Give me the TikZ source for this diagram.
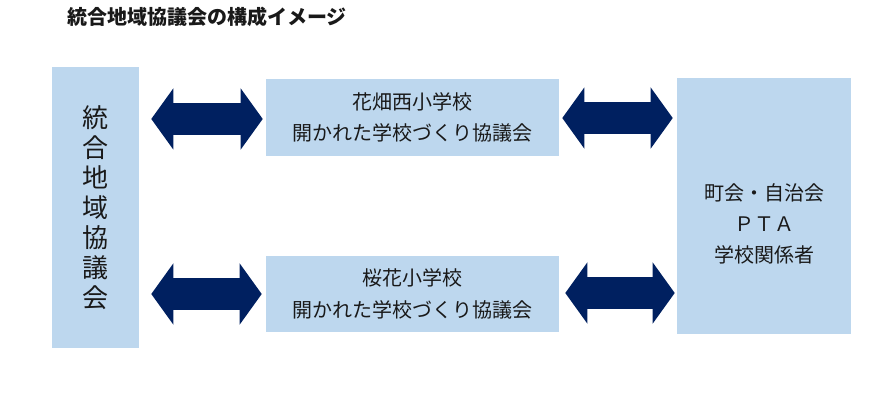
\documentclass[tikz,border=0pt]{standalone}
\usepackage{fontspec}
\setmainfont{Noto Sans CJK JP}
\usepackage{xcolor}
\definecolor{boxblue}{RGB}{189,215,238}
\definecolor{arrownavy}{RGB}{0,32,96}
\usepackage{tikz}
\usetikzlibrary{arrows.meta,positioning,calc}

\begin{document}
\begin{tikzpicture}[
  x=0.75pt,y=-0.75pt,
  every node/.style={font=\fontsize{15}{23.5}\selectfont,text=black!90},
  partbox/.style={fill=boxblue,draw=none,align=center,inner sep=0pt},
  dblarrow/.style={arrownavy,line width=24pt,line cap=butt,
                   {Triangle[length=16.5pt,width=45pt]}-{Triangle[length=16.5pt,width=45pt]}},
]
  \useasboundingbox (0,0) rectangle (880,414);

  % Title
  \node[font=\fontsize{15}{18}\selectfont\bfseries] (title) at (207,17) {統合地域協議会の構成イメージ};

  % Boxes
  \node[partbox,minimum width=65.25pt,minimum height=210.75pt,
        font=\fontsize{19.5}{22.5}\selectfont] (council) at (95.5,207.5)
        {統\\合\\地\\域\\協\\議\\会};
  \node[partbox,minimum width=219.75pt,minimum height=57.75pt] (hanabata) at (412.5,117.5)
        {花畑西小学校\\開かれた学校づくり協議会};
  \node[partbox,minimum width=219.75pt,minimum height=57pt] (sakura) at (412.5,294)
        {桜花小学校\\開かれた学校づくり協議会};
  \node[partbox,minimum width=130.5pt,minimum height=192pt,
        label={[align=center,yshift=-13.5pt]center:{町会・自治会\\ＰＴＡ\\学校関係者}}] (local) at (764,206) {};

  % Arrows
  \draw[dblarrow] ([xshift=9pt,yshift=-1.1pt]council.east |- hanabata.west) -- ([xshift=-2.25pt,yshift=-1.1pt]hanabata.west);
  \draw[dblarrow] ([xshift=2.25pt,yshift=-0.4pt]hanabata.east) -- ([xshift=-3pt,yshift=-0.4pt]local.west |- hanabata.east);
  \draw[dblarrow] ([xshift=9pt]council.east |- sakura.west) -- ([xshift=-3pt]sakura.west);
  \draw[dblarrow] ([xshift=4.5pt,yshift=0.75pt]sakura.east) -- ([xshift=-1.5pt,yshift=0.75pt]local.west |- sakura.east);
\end{tikzpicture}
\end{document}
